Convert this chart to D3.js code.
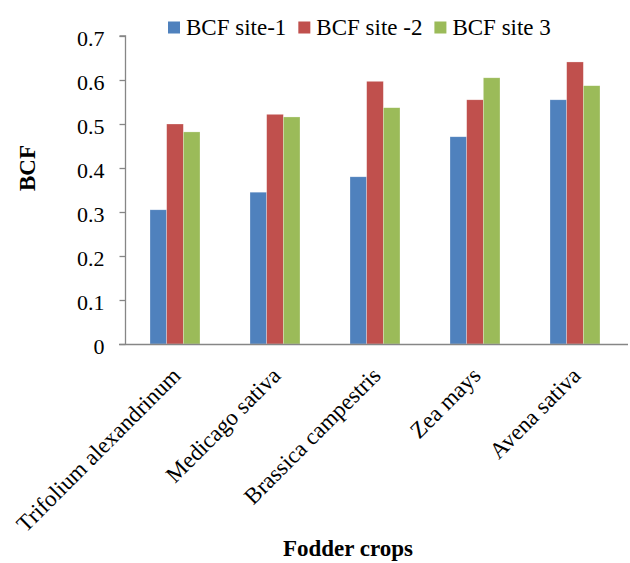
<!DOCTYPE html>
<html>
<head>
<meta charset="utf-8">
<script src="https://cdn.jsdelivr.net/npm/d3@7"></script>
<style>
  html, body { margin: 0; padding: 0; background: #fff; }
  svg { display: block; }
</style>
</head>
<body>
<svg id="chart" width="630" height="563" font-family="'Times New Roman', serif"></svg>
<script>
// Fodder crops and their bioconcentration factors at three sites
const crops = ["Trifolium alexandrinum", "Medicago sativa", "Brassica campestris", "Zea mays", "Avena sativa"];
const seriesNames = ["BCF site-1", "BCF site -2", "BCF site 3"];
const site1 = [0.305, 0.345, 0.380, 0.471, 0.555];
const site2 = [0.500, 0.522, 0.597, 0.555, 0.641];
const site3 = [0.482, 0.516, 0.537, 0.605, 0.587];
const yTicks = [0, 0.1, 0.2, 0.3, 0.4, 0.5, 0.6, 0.7];
const colors = ["#4F81BD", "#C0504D", "#9BBB59"];

const FONT = "'Times New Roman', serif";
const seriesValues = [site1, site2, site3];
const rows = crops.map((c, i) => ({
  crop: c,
  values: seriesNames.map((s, k) => ({ series: s, value: seriesValues[k][i] }))
}));

const svg = d3.select("#chart");
const axisColor = "#868686";

const x0 = d3.scaleBand().domain(crops).range([125, 625]);
const x1 = d3.scaleBand().domain(seriesNames)
  .range([0, x0.bandwidth()]).paddingInner(0).paddingOuter(1.5);
const y = d3.scaleLinear().domain([0, 0.7]).range([344, 36]);
const color = d3.scaleOrdinal().domain(seriesNames).range(colors);

// Bars
const groups = svg.append("g").selectAll("g")
  .data(rows).join("g")
  .attr("transform", d => `translate(${x0(d.crop)},0)`);

groups.selectAll("rect")
  .data(d => d.values).join("rect")
  .attr("x", d => x1(d.series))
  .attr("width", x1.bandwidth())
  .attr("y", d => y(d.value))
  .attr("height", d => y(0) - y(d.value))
  .attr("fill", d => color(d.series))
  .attr("stroke", "#ffffff")
  .attr("stroke-opacity", 0.45)
  .attr("stroke-width", 0.6);

// Y axis
const yAxis = d3.axisLeft(y)
  .tickValues(yTicks)
  .tickSize(6)
  .tickPadding(15)
  .tickFormat(d => d === 0 ? "0" : d3.format(".1f")(d));

const gy = svg.append("g")
  .attr("transform", "translate(125.5,0)")
  .call(yAxis)
  .attr("font-family", FONT)
  .attr("font-size", 22);
gy.select(".domain").attr("stroke", axisColor).attr("stroke-width", 1.3)
  .attr("d", `M-6,${y(0.7)}H0V${y(0)}`);
gy.selectAll(".tick line").attr("stroke", axisColor).attr("stroke-width", 1.3);
gy.selectAll(".tick text")
  .attr("fill", "#000")
  .attr("font-family", FONT)
  .attr("font-size", 22)
  .attr("dy", "0.45em");

// X axis baseline
svg.append("line")
  .attr("x1", 119).attr("x2", 628)
  .attr("y1", y(0) + 0.5).attr("y2", y(0) + 0.5)
  .attr("stroke", axisColor).attr("stroke-width", 1.3);

// Category labels, rotated
svg.append("g").selectAll("text")
  .data(crops).join("text")
  .attr("transform", d => `translate(${x0(d) + x0.bandwidth() / 2 + 7},377) rotate(-45)`)
  .attr("text-anchor", "end")
  .attr("font-family", FONT)
  .attr("font-size", 23)
  .attr("fill", "#000")
  .text(d => d);

// Axis titles
svg.append("text")
  .attr("transform", "translate(35,168) rotate(-90)")
  .attr("text-anchor", "middle")
  .attr("font-family", FONT)
  .attr("font-size", 23)
  .attr("font-weight", "bold")
  .text("BCF");

svg.append("text")
  .attr("x", 348).attr("y", 556)
  .attr("text-anchor", "middle")
  .attr("font-family", FONT)
  .attr("font-size", 23)
  .attr("font-weight", "bold")
  .text("Fodder crops");

// Legend
const legend = svg.append("g");
let lx = 168;
seriesNames.forEach((s, k) => {
  legend.append("rect")
    .attr("x", lx).attr("y", 21.5)
    .attr("width", 12).attr("height", 12)
    .attr("fill", colors[k]);
  const t = legend.append("text")
    .attr("x", lx + 18).attr("y", 35)
    .attr("font-family", FONT)
    .attr("font-size", 23)
    .attr("fill", "#000")
    .text(s);
  lx += 18 + t.node().getComputedTextLength() + 12;
});
</script>
</body>
</html>
